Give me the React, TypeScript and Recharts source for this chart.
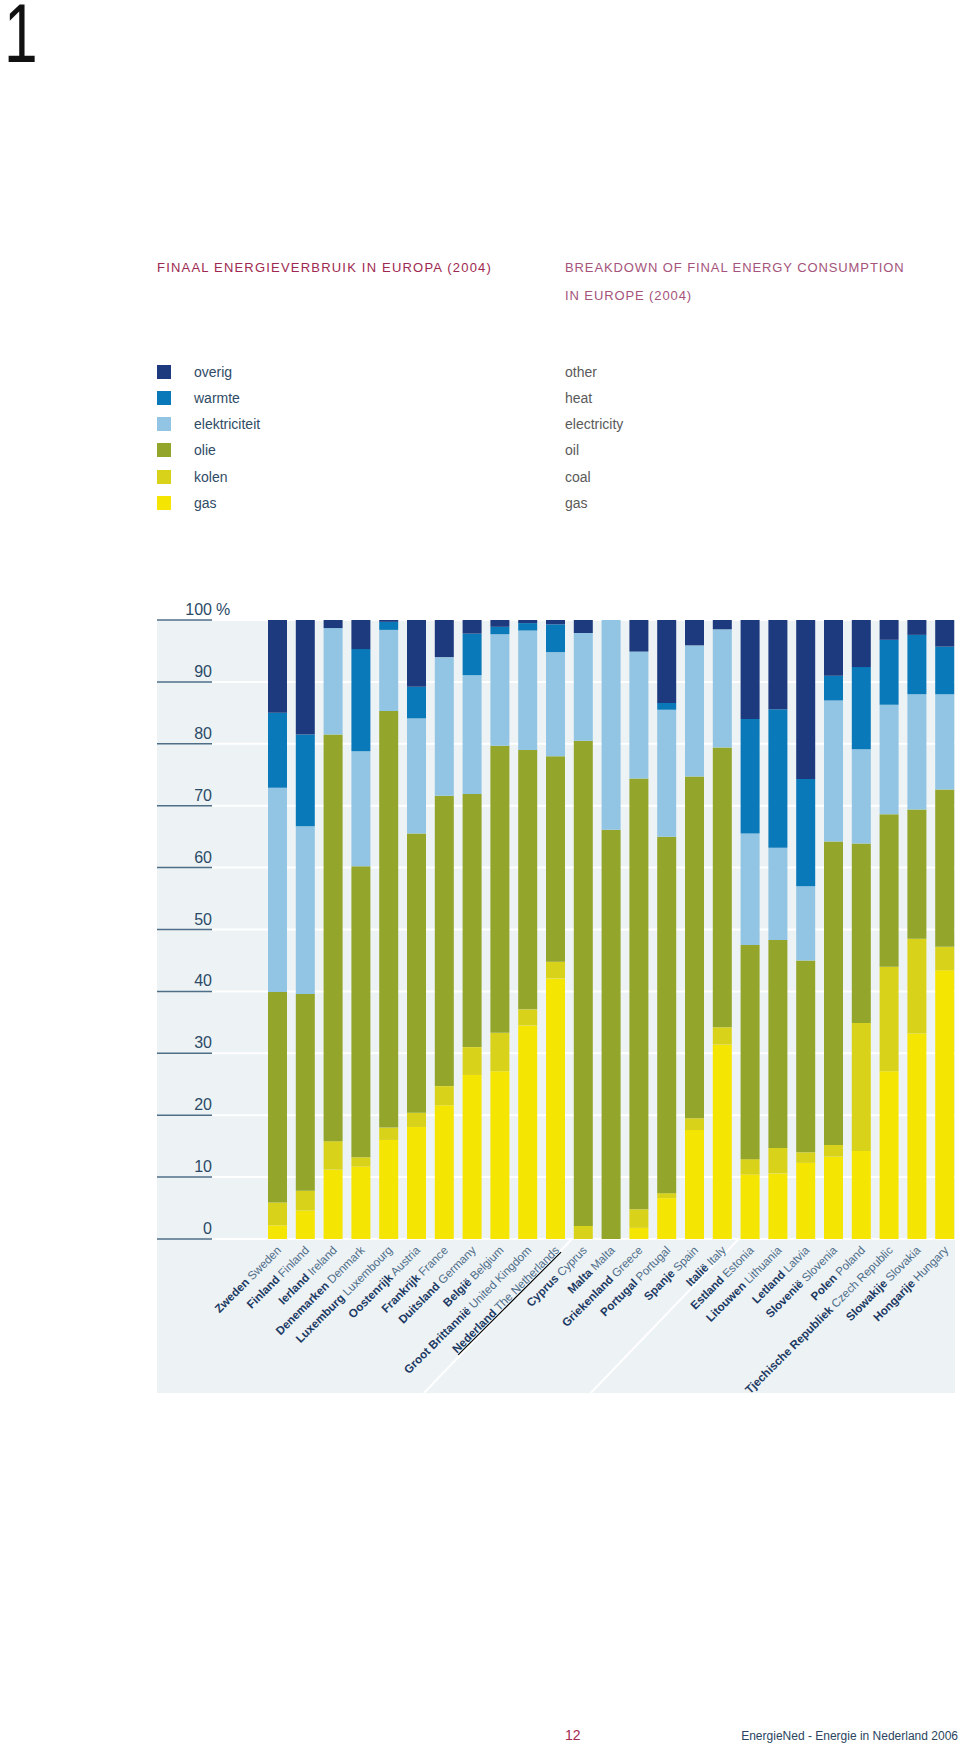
import React from "react";
import { BarChart, Bar, XAxis, YAxis, CartesianGrid } from "recharts";

const countriesNl = [
  "Zweden", "Finland", "Ierland", "Denemarken", "Luxemburg", "Oostenrijk", "Frankrijk",
  "Duitsland", "België", "Groot Brittannië", "Nederland", "Cyprus", "Malta", "Griekenland",
  "Portugal", "Spanje", "Italië", "Estland", "Litouwen", "Letland", "Slovenië", "Polen",
  "Tjechische Republiek", "Slowakije", "Hongarije"
];
const countriesEn = [
  "Sweden", "Finland", "Ireland", "Denmark", "Luxembourg", "Austria", "France",
  "Germany", "Belgium", "United Kingdom", "The Netherlands", "Cyprus", "Malta", "Greece",
  "Portugal", "Spain", "Italy", "Estonia", "Lithuania", "Latvia", "Slovenia", "Poland",
  "Czech Republic", "Slovakia", "Hungary"
];

// percentages, stacked bottom -> top
const gas = [2.2, 4.6, 11.2, 11.7, 16.0, 18.1, 21.6, 26.5, 27.1, 34.5, 42.1, 0, 0, 1.8, 6.6, 17.6, 31.4, 10.4, 10.6, 12.3, 13.3, 14.2, 27.1, 33.2, 43.4];
const kolen = [3.7, 3.2, 4.6, 1.5, 2.0, 2.3, 3.1, 4.5, 6.2, 2.6, 2.7, 2.1, 0, 3.0, 0.8, 1.9, 2.8, 2.5, 4.1, 1.7, 1.9, 20.7, 16.9, 15.3, 3.8];
const olie = [34.0, 31.8, 65.7, 47.0, 67.3, 45.1, 46.9, 40.9, 46.4, 41.9, 33.2, 78.4, 66.1, 69.6, 57.6, 55.2, 45.2, 34.6, 33.6, 31.0, 49.0, 29.0, 24.6, 20.9, 25.4];
const elektriciteit = [33.0, 27.1, 17.2, 18.6, 13.1, 18.6, 22.4, 19.2, 18.0, 19.3, 16.8, 17.4, 33.9, 20.5, 20.5, 21.2, 19.1, 18.0, 14.9, 12.0, 22.8, 15.2, 17.7, 18.6, 15.4];
const warmte = [12.1, 14.8, 0, 16.5, 1.3, 5.1, 0, 6.7, 1.2, 1.2, 4.5, 0, 0, 0, 1.1, 0, 0, 18.5, 22.4, 17.3, 4.0, 13.3, 10.5, 9.6, 7.7];
const overig = [15.0, 18.5, 1.3, 4.7, 0.3, 10.8, 6.0, 2.2, 1.1, 0.5, 0.7, 2.1, 0, 5.1, 13.4, 4.1, 1.5, 16.0, 14.4, 25.7, 9.0, 7.6, 3.2, 2.4, 4.3];

const yTicks = [0, 10, 20, 30, 40, 50, 60, 70, 80, 90, 100];

const series = [
  { key: "overig", nl: "overig", en: "other", color: "#1d3a7e" },
  { key: "warmte", nl: "warmte", en: "heat", color: "#0a79b9" },
  { key: "elektriciteit", nl: "elektriciteit", en: "electricity", color: "#91c5e3" },
  { key: "olie", nl: "olie", en: "oil", color: "#93a52b" },
  { key: "kolen", nl: "kolen", en: "coal", color: "#d9d21b" },
  { key: "gas", nl: "gas", en: "gas", color: "#f5e503" }
];

const data = countriesNl.map((c, i) => ({
  country: c,
  gas: gas[i],
  kolen: kolen[i],
  olie: olie[i],
  elektriciteit: elektriciteit[i],
  warmte: warmte[i],
  overig: overig[i]
}));

const FONT = "'Liberation Sans', Arial, Helvetica, sans-serif";

function PercentTick({ x, y, payload }: any) {
  return (
    <g>
      <line x1={x - 55} x2={x} y1={y} y2={y} stroke="#4f6f88" strokeWidth={1.5} />
      <text x={x} y={y - 5} textAnchor="end" fontSize={16} fill="#2b4a67" fontFamily={FONT}>
        {payload.value}
      </text>
      {payload.value === 100 && (
        <text x={x + 4} y={y - 5} fontSize={16} fill="#2b4a67" fontFamily={FONT}>%</text>
      )}
    </g>
  );
}

function CountryTick({ x, y, payload }: any) {
  const i = payload.index;
  const tx = x + 4;
  const ty = y + 12;
  return (
    <g>
      {(i === 10 || i === 16) && (
        <line x1={x + 16} y1={y} x2={x + 16 - 148} y2={y + 154} stroke="#ffffff" strokeWidth={2} />
      )}
      <text
        x={tx}
        y={ty}
        transform={`rotate(-45 ${tx} ${ty})`}
        textAnchor="end"
        fontSize={11.6}
        fontFamily={FONT}
        textDecoration={i === 10 ? "underline" : undefined}
      >
        <tspan fontWeight="bold" fill="#1c3a63">{countriesNl[i]}</tspan>
        <tspan fill="#4d6d89">{" " + countriesEn[i]}</tspan>
      </text>
    </g>
  );
}

export default function App() {
  return (
    <div style={{ position: "absolute", left: 0, top: 0, width: 960, height: 1744, fontFamily: FONT, background: "#fff" }}>
      <div
        style={{
          position: "absolute",
          left: 4,
          top: 0,
          fontSize: 84,
          lineHeight: "66px",
          color: "#111",
          transform: "scaleX(0.72)",
          transformOrigin: "0 0"
        }}
      >
        1
      </div>

      <div style={{ position: "absolute", left: 157, top: 260, fontSize: 13, lineHeight: "16px", letterSpacing: 1.2, color: "#9e2850" }}>
        FINAAL ENERGIEVERBRUIK IN EUROPA (2004)
      </div>
      <div style={{ position: "absolute", left: 565, top: 254, fontSize: 13, lineHeight: "28px", letterSpacing: 0.9, color: "#a5537a" }}>
        BREAKDOWN OF FINAL ENERGY CONSUMPTION<br />IN EUROPE (2004)
      </div>

      {series.map((s, i) => (
        <div key={s.key} style={{ position: "absolute", left: 0, top: 371.5 + i * 26.3 - 10, height: 20, width: 960 }}>
          <div style={{ position: "absolute", left: 157, top: 3, width: 14, height: 14, background: s.color }} />
          <div style={{ position: "absolute", left: 194, top: 0, fontSize: 14, lineHeight: "20px", color: "#2f4b66" }}>{s.nl}</div>
          <div style={{ position: "absolute", left: 565, top: 0, fontSize: 14, lineHeight: "20px", color: "#5a5a5a" }}>{s.en}</div>
        </div>
      ))}

      <div style={{ position: "absolute", left: 157, top: 620, width: 798, height: 773, background: "#edf2f5" }} />

      <div style={{ position: "absolute", left: 0, top: 600 }}>
        <BarChart
          width={960}
          height={814}
          data={data}
          margin={{ top: 20, right: 1, left: 157, bottom: 0 }}
          barSize={19}
        >
          <CartesianGrid horizontal vertical={false} stroke="#ffffff" strokeWidth={2} />
          <YAxis
            type="number"
            domain={[0, 100]}
            ticks={yTicks}
            width={55}
            axisLine={false}
            tickLine={false}
            tickSize={0}
            tickMargin={0}
            tick={<PercentTick />}
            interval={0}
          />
          <XAxis
            dataKey="country"
            height={175}
            padding={{ left: 52, right: 0 }}
            axisLine={false}
            tickLine={false}
            tickSize={0}
            tickMargin={0}
            interval={0}
            tick={<CountryTick />}
          />
          {["gas", "kolen", "olie", "elektriciteit", "warmte", "overig"].map((k) => (
            <Bar
              key={k}
              dataKey={k}
              stackId="a"
              fill={series.find((s) => s.key === k)!.color}
              isAnimationActive={false}
            />
          ))}
        </BarChart>
      </div>

      <div style={{ position: "absolute", left: 565, top: 1727, fontSize: 14, lineHeight: "16px", color: "#a3294f" }}>12</div>
      <div style={{ position: "absolute", right: 2, top: 1728, fontSize: 12, lineHeight: "16px", color: "#2b4560", whiteSpace: "nowrap" }}>
        EnergieNed - Energie in Nederland 2006
      </div>
    </div>
  );
}
